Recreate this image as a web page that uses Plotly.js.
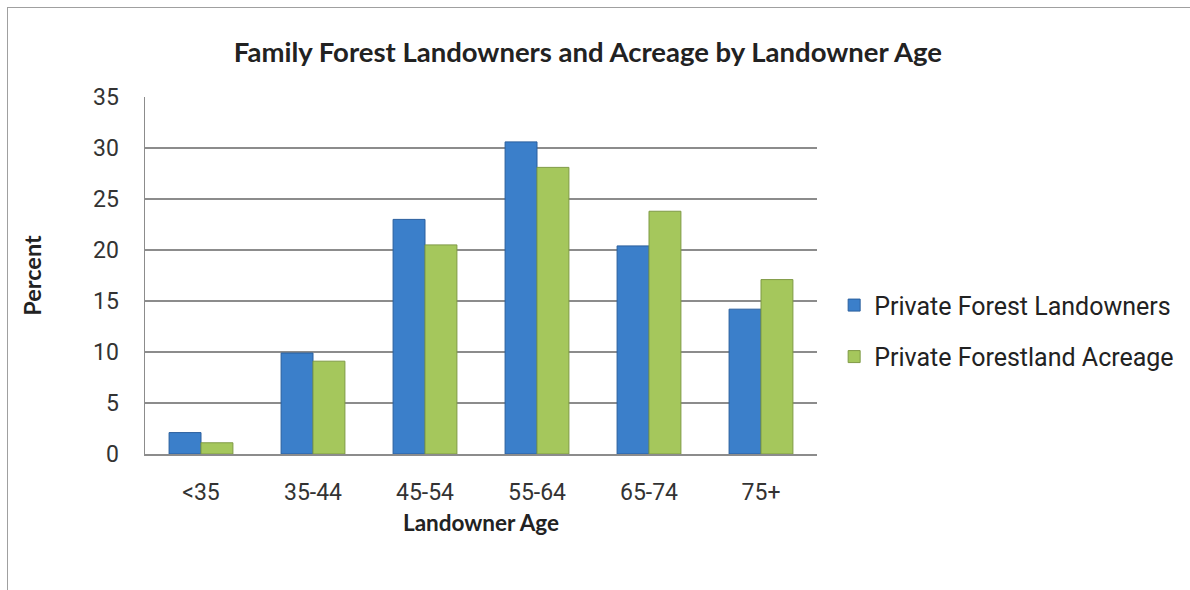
<!DOCTYPE html>
<html><head><meta charset="utf-8">
<script src="https://cdn.plot.ly/plotly-3.0.1.min.js"></script>
<style>
body{margin:0;background:#fff;overflow:hidden}
#frame{position:absolute;left:7px;top:7px;width:1300px;height:700px;border:1.5px solid #a0a0a0;}
#chart{position:absolute;left:0;top:0;width:1190px;height:590px;}
</style></head>
<body><div id="frame"></div><div id="chart"></div>
<script>
const categories = ["<35", "35-44", "45-54", "55-64", "65-74", "75+"];
const landowners = [2.1, 9.9, 23.0, 30.6, 20.4, 14.2];
const acreage = [1.1, 9.1, 20.5, 28.1, 23.8, 17.1];
const seriesNames = ["Private Forest Landowners", "Private Forestland Acreage"];
const yTicks = [0, 5, 10, 15, 20, 25, 30, 35];

const boldFont = "Lato, 'Open Sans', sans-serif";
const tickFont = "Roboto, 'Liberation Sans', sans-serif";
const traces = [
  {type:"bar", x:categories, y:landowners, name:seriesNames[0], legendgroup:"a",
   marker:{color:"#3b7fca", line:{color:"#2a5f9e", width:1}}},
  {type:"bar", x:categories, y:acreage, name:seriesNames[1], legendgroup:"b",
   marker:{color:"#a5c75c", line:{color:"#7f9a45", width:1}}}
];
const layout = {
  width:1190, height:590,
  paper_bgcolor:"rgba(0,0,0,0)", plot_bgcolor:"rgba(0,0,0,0)",
  margin:{l:145, r:372, t:97, b:136},
  barmode:"group", bargap:0.43, bargroupgap:0,
  title:{text:"Family Forest Landowners and Acreage by Landowner Age",
    font:{family:boldFont, size:27.5, color:"#222", weight:"bold"},
    x:0.494, xref:"container", xanchor:"center", y:0.912, yanchor:"middle"},
  xaxis:{type:"category", showgrid:false, showline:true, linecolor:"#8c8c8c", linewidth:1.5,
    tickfont:{family:tickFont, size:23, color:"#333"}, ticks:"", ticklabelstandoff:17,
    title:{text:"Landowner Age", font:{family:boldFont, size:22.5, color:"#222", weight:"bold"}, standoff:10}},
  yaxis:{range:[0,35], tickvals:yTicks, showgrid:true, gridcolor:"#8c8c8c", gridwidth:1.5,
    showline:true, linecolor:"#8c8c8c", linewidth:1.5, zeroline:false,
    tickfont:{family:tickFont, size:23, color:"#333"}, ticks:"", ticklabelstandoff:20,
    title:{text:"Percent", font:{family:boldFont, size:23.5, color:"#222", weight:"bold"}, standoff:45}},
  showlegend:true,
  legend:{x:1.024, xanchor:"left", y:0.345, yanchor:"middle", tracegroupgap:16,
    font:{family:tickFont, size:25, color:"#222"}, itemwidth:30, bgcolor:"rgba(0,0,0,0)"}
};
Plotly.newPlot("chart", traces, layout, {displayModeBar:false, staticPlot:true});
</script></body></html>
